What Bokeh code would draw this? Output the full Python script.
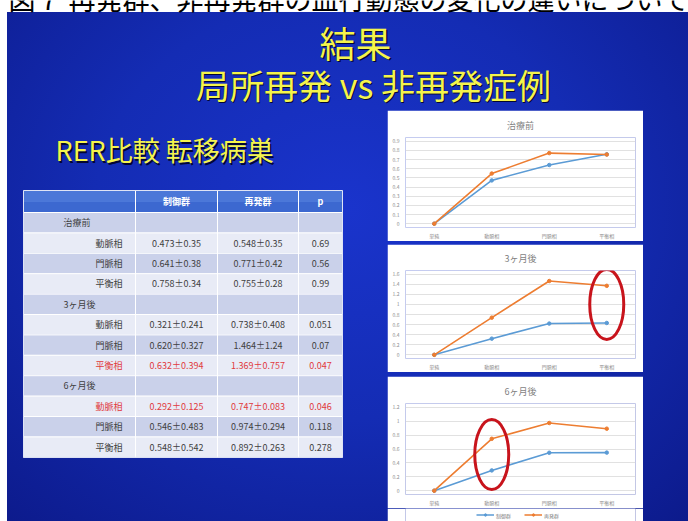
from bokeh.plotting import figure
from bokeh.models import Range1d, FactorRange, FixedTicker, Legend, LegendItem, Spacer
from bokeh.layouts import column, row
from bokeh.core.properties import value
from bokeh.embed import file_html
from bokeh.resources import INLINE

# ---------------- data ----------------
CAPTION = "図７ 再発群、非再発群の血行動態の変化の違いについて"
TITLE1 = "結果"
TITLE2 = "局所再発 vs 非再発症例"
SUBTITLE = "RER比較 転移病巣"

groups = ["治療前", "3ヶ月後", "6ヶ月後"]
phases = ["動脈相", "門脈相", "平衡相"]
categories = ["単純", "動脈相", "門脈相", "平衡相"]
series_names = ["制御群", "再発群"]
header_labels = ["制御群", "再発群", "p"]

ctrl_mean = [[0.473, 0.641, 0.758], [0.321, 0.620, 0.632], [0.292, 0.546, 0.548]]
ctrl_sd = [[0.35, 0.38, 0.34], [0.241, 0.327, 0.394], [0.125, 0.483, 0.542]]
rec_mean = [[0.548, 0.771, 0.755], [0.738, 1.464, 1.369], [0.747, 0.974, 0.892]]
rec_sd = [[0.35, 0.42, 0.28], [0.408, 1.24, 0.757], [0.083, 0.294, 0.263]]
p_values = [[0.69, 0.56, 0.99], [0.051, 0.07, 0.047], [0.046, 0.118, 0.278]]
plain_value = [0.0, 0.0, 0.0]   # 単純 value of each chart

y_max = [0.9, 1.6, 1.2]
y_step = [0.1, 0.2, 0.2]
highlight = {"3ヶ月後": "平衡相", "6ヶ月後": "動脈相"}

# ---------------- style ----------------
FONT = "Noto Sans CJK JP"
YELLOW = "#f4f44c"
SERIES_COLORS = ["#5b9bd5", "#ed7d31"]
TEXT_GRAY = "#404040"
RED = "#e0393c"
HDR_H = 110


def canvas(w, h, x0, x1, y0, y1):
    p = figure(width=w, height=h, x_range=Range1d(x0, x1), y_range=Range1d(y1, y0),
               x_axis_type=None, y_axis_type=None, output_backend="svg",
               toolbar_location=None, min_border=0)
    p.outline_line_color = None
    p.background_fill_alpha = 0
    p.border_fill_alpha = 0
    return p


def shadow_text(p, x, y, txt, size, align, off=1.5):
    p.text(x=[x + off], y=[y + off], text=[txt], text_font=value(FONT), text_font_size=size,
           text_color="#00001a", text_alpha=0.85,
           text_align=align, text_baseline="middle")
    p.text(x=[x], y=[y], text=[txt], text_font=value(FONT), text_font_size=size,
           text_color=YELLOW, text_align=align, text_baseline="middle")


# ---------------- header ----------------
hdr = canvas(688, HDR_H, 0, 688, 0, HDR_H)
hdr.text(x=[8], y=[-2], text=[CAPTION], text_font=value(FONT), text_font_size="27px",
         text_color="black", text_align="left", text_baseline="middle")
shadow_text(hdr, 355, 41, TITLE1, "36px", "center")
shadow_text(hdr, 373, 84, TITLE2, "34px", "center", off=1)

# ---------------- left: subtitle + table ----------------
BODY_H = 521 - HDR_H
left = canvas(387, BODY_H, 0, 387, HDR_H, 521)
shadow_text(left, 55, 149, SUBTITLE, "27px", "left")

TABLE_X = [23, 135, 217, 298, 342]
HEAD_TOP, HEAD_BOT = 190, 212
ROW_H = 20.4

# header
left.quad(left=TABLE_X[0], right=TABLE_X[-1], top=HEAD_TOP, bottom=HEAD_BOT, color="#3c68d0")
left.quad(left=TABLE_X[0], right=TABLE_X[-1], top=HEAD_TOP, bottom=(HEAD_TOP + HEAD_BOT) / 2,
          color="#4f7ada", alpha=0.8)
for j, lab in enumerate(header_labels):
    cx = (TABLE_X[j + 1] + TABLE_X[j + 2]) / 2
    left.text(x=[cx], y=[(HEAD_TOP + HEAD_BOT) / 2], text=[lab], text_font=value(FONT),
              text_font_size="9px", text_font_style="bold", text_color="white",
              text_align="center", text_baseline="middle")

row_i = 0
for g, gname in enumerate(groups):
    entries = [("group", None)] + [("phase", k) for k in range(len(phases))]
    for kind, k in entries:
        top = HEAD_BOT + row_i * ROW_H
        bot = top + ROW_H
        mid = (top + bot) / 2
        fill = "#cad1ea" if row_i % 2 == 0 else "#e8ebf6"
        left.quad(left=TABLE_X[0], right=TABLE_X[-1], top=top, bottom=bot, color=fill)
        if kind == "group":
            left.text(x=[TABLE_X[0] + 40], y=[mid], text=[gname], text_font=value(FONT),
                      text_font_size="9px", text_color=TEXT_GRAY, text_align="left",
                      text_baseline="middle")
        else:
            col = RED if p_values[g][k] < 0.05 else TEXT_GRAY
            cells = [
                f"{ctrl_mean[g][k]:.3f}±{ctrl_sd[g][k]}",
                f"{rec_mean[g][k]:.3f}±{rec_sd[g][k]}",
                f"{p_values[g][k]}",
            ]
            left.text(x=[TABLE_X[1] - 13], y=[mid], text=[phases[k]], text_font=value(FONT),
                      text_font_size="9px", text_color=col, text_align="right",
                      text_baseline="middle")
            for j, c in enumerate(cells):
                cx = (TABLE_X[j + 1] + TABLE_X[j + 2]) / 2
                left.text(x=[cx], y=[mid], text=[c], text_font=value(FONT),
                          text_font_size="9px", text_color=col, text_align="center",
                          text_baseline="middle")
        row_i += 1

TABLE_BOT = HEAD_BOT + row_i * ROW_H
left.segment(x0=TABLE_X[1:-1], x1=TABLE_X[1:-1], y0=[HEAD_TOP] * 3, y1=[TABLE_BOT] * 3,
             line_color="white", line_width=1)
hy = [HEAD_BOT + i * ROW_H for i in range(row_i)]
left.segment(x0=[TABLE_X[0]] * len(hy), x1=[TABLE_X[-1]] * len(hy), y0=hy, y1=hy,
             line_color="white", line_width=1)
left.quad(left=TABLE_X[0], right=TABLE_X[-1], top=HEAD_TOP, bottom=TABLE_BOT,
          fill_alpha=0, line_color="#dfe4f5", line_width=1)


# ---------------- charts ----------------
def make_chart(gi, h, top, bottom, title_standoff):
    ym, st = y_max[gi], y_step[gi]
    h0 = h - top - bottom - 8
    pad = 4 * ym / h0
    p = figure(width=256, height=h, x_range=FactorRange(*categories),
               y_range=Range1d(-pad, ym + pad), output_backend="svg",
               toolbar_location=None, min_border_left=18, min_border_right=8,
               min_border_top=top, min_border_bottom=bottom, title=groups[gi])
    p.background_fill_color = "white"
    p.border_fill_color = "white"
    p.outline_line_color = None
    p.title.align = "center"
    p.title.text_font = FONT
    p.title.text_font_size = "9px"
    p.title.text_font_style = "normal"
    p.title.text_color = "#7f7f7f"
    p.title.standoff = title_standoff

    n = int(round(ym / st))
    ticks = [round(st * i, 2) for i in range(n + 1)]
    p.yaxis.ticker = FixedTicker(ticks=ticks)
    p.yaxis.major_label_overrides = {t: f"{t:g}" for t in ticks}
    for ax in (p.xaxis, p.yaxis):
        ax.axis_line_color = None
        ax.major_tick_line_color = None
        ax.minor_tick_line_color = None
        ax.major_tick_out = 0
        ax.major_tick_in = 0
        ax.minor_tick_out = 0
        ax.minor_tick_in = 0
        ax.major_label_text_font = FONT
        ax.major_label_text_font_size = "5px"
        ax.major_label_text_color = "#8c8c8c"
    p.yaxis.major_label_standoff = 6
    p.xaxis.major_label_standoff = 4
    p.xgrid.grid_line_color = None
    p.ygrid.ticker = FixedTicker(ticks=ticks)
    p.ygrid.grid_line_color = "#d9d9d9"
    p.ygrid.grid_line_width = 0.8

    for s, means in enumerate([ctrl_mean, rec_mean]):
        vals = [plain_value[gi]] + means[gi]
        p.line(x=categories, y=vals, line_color=SERIES_COLORS[s], line_width=1.6)
        p.scatter(x=categories, y=vals, size=3.5, fill_color=SERIES_COLORS[s],
                  line_color=SERIES_COLORS[s])

    gname = groups[gi]
    if gname in highlight:
        k = phases.index(highlight[gname])
        ci = categories.index(highlight[gname])
        yc = (ctrl_mean[gi][k] + rec_mean[gi][k]) / 2
        p.ellipse(x=[ci + 0.5], y=[yc], width=34, height=70, width_units="screen",
                  height_units="screen", fill_color=None, line_color="#c8141c", line_width=3)
    return p


c1 = make_chart(0, 241 - HDR_H, 133 - HDR_H, 13, 12)
c2 = make_chart(1, 128, 22, 10, 11)
c3 = make_chart(2, 132, 24, 12, 12)

# legend strip under the last chart (renderers hold a point outside the visible range)
lgf = figure(width=256, height=13, x_axis_type=None, y_axis_type=None,
             x_range=Range1d(0, 1), y_range=Range1d(0, 1),
             output_backend="svg", toolbar_location=None, min_border=0)
lgf.outline_line_color = None
lgf.background_fill_color = "white"
lgf.border_fill_color = "white"
items = []
for s, name in enumerate(series_names):
    lr = lgf.line(x=[-5, -4], y=[-5, -5], line_color=SERIES_COLORS[s], line_width=1.6)
    cr = lgf.scatter(x=[-5], y=[-5], size=3.5, fill_color=SERIES_COLORS[s],
                     line_color=SERIES_COLORS[s])
    items.append(LegendItem(label=name, renderers=[lr, cr]))
lg = Legend(items=items, orientation="horizontal", location="center",
            label_text_font=FONT, label_text_font_size="5px",
            label_text_color="#7f7f7f", glyph_height=6, glyph_width=18,
            label_height=6, label_standoff=2, spacing=8, padding=0, margin=0,
            border_line_color=None, background_fill_alpha=0)
lgf.add_layout(lg, "center")

charts = column(c1, Spacer(width=256, height=3), c2, Spacer(width=256, height=4), c3, lgf)
body = row(left, charts, Spacer(width=45, height=BODY_H))
layout = column(hdr, body, styles={
    "background": (
        "linear-gradient(to bottom, #ffffff 0px, #ffffff 12.5px, transparent 12.5px), "
        "linear-gradient(to right, #ffffff 0px, #ffffff 7.5px, transparent 7.5px), "
        "radial-gradient(ellipse 80% 90% at 50% 40%, #1a34cc 0%, #142cb4 45%, #0b1784 100%)"
    )
})

open("out.html", "w").write(file_html(layout, INLINE))
